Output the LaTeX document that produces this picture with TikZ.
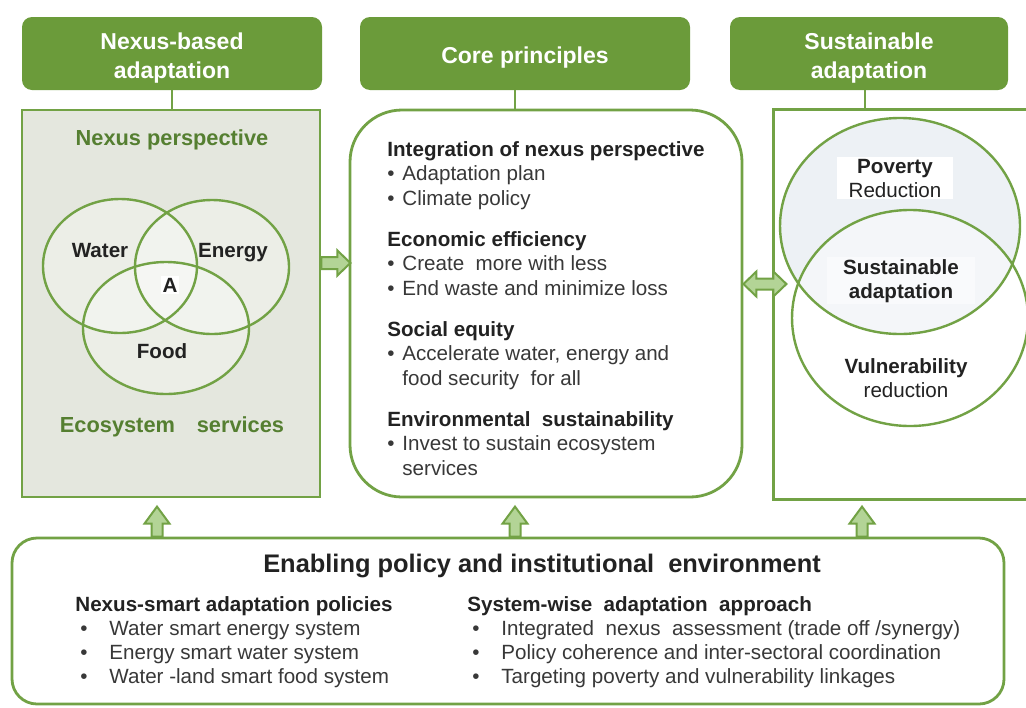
\documentclass[tikz,border=0pt]{standalone}
\usepackage{fontspec}
\setmainfont{Liberation Sans}
\usetikzlibrary{positioning}

\definecolor{leaf}{HTML}{6B9B3A}
\definecolor{leafline}{HTML}{72A245}
\definecolor{leaftext}{HTML}{557F31}
\definecolor{leaflight}{HTML}{B3D496}
\definecolor{panelgrey}{HTML}{E4E7DE}
\definecolor{mist}{HTML}{EDF1F5}
\definecolor{ink}{HTML}{222222}
\definecolor{softink}{HTML}{383838}

\newcommand{\bul}{\makebox[7.5pt][l]{•}}
\newcommand{\wbul}{\makebox[17pt][l]{\hspace{2.5pt}•}}

\tikzset{
  headbox/.style={fill=leaf, rounded corners=5pt, minimum height=36.5pt},
  headtext/.style={text=white, align=center, font=\fontsize{11.5}{14.5}\selectfont\bfseries},
  panel/.style={draw=leafline, line width=1.4pt, minimum height=193.5pt},
  link/.style={draw=leafline, line width=1.4pt},
  venn/.style={draw=leafline, line width=1.2pt},
  greenhead/.style={anchor=base, text=leaftext, font=\fontsize{10.9}{13}\selectfont\bfseries},
  tag/.style={anchor=base, inner sep=1pt, text=ink, align=center,
    font=\fontsize{10.3}{12}\selectfont\bfseries},
  sect/.style={anchor=base west, inner sep=0pt, align=left, text=softink,
    font=\fontsize{10.3}{12.25}\selectfont},
  arrowbox/.style={draw=leafline, fill=leaflight, line width=1pt},
  rarrow/.pic={\path[arrowbox] (0,-6) -- (16,-6) -- (16,-12.5) -- (29,0)
    -- (16,12.5) -- (16,6) -- (0,6) -- cycle;},
  uparrow/.pic={\path[arrowbox] (-5.5,0) -- (-5.5,-13) -- (-12.5,-13) -- (0,-30)
    -- (12.5,-13) -- (5.5,-13) -- (5.5,0) -- cycle;},
  dblarrow/.pic={\path[arrowbox] (0,0) -- (13,-12.5) -- (13,-5.5) -- (30,-5.5)
    -- (30,-12.5) -- (43,0) -- (30,12.5) -- (30,5.5) -- (13,5.5) -- (13,12.5) -- cycle;},
}

\begin{document}
\begin{tikzpicture}[x=0.5pt, y=-0.5pt]
  \clip (0,0) rectangle (1026,707);
  \fill[white] (0,0) rectangle (1026,707);

  % column heads
  \node[headbox, minimum width=150pt] (hdnexus) at (172,53.5) {};
  \node[headbox, minimum width=165pt] (hdcore) at (525,53.5) {};
  \node[headbox, minimum width=139pt] (hdsust) at (869,53.5) {};
  \node[headtext] (hdnexustxt) at ([yshift=-2.5pt]hdnexus.center) {Nexus-based\\adaptation};
  \node[headtext] (hdcoretxt) at ([yshift=-2pt]hdcore.center) {Core principles};
  \node[headtext] (hdsusttxt) at ([yshift=-2.5pt]hdsust.center) {Sustainable\\adaptation};

  % panels
  \node[panel, fill=panelgrey, minimum width=149pt] (nexus) at (171,303.5) {};
  \node[panel, rounded corners=26pt, minimum width=196pt] (core) at (546,303.5) {};
  \node[panel, anchor=north west, minimum width=134pt, minimum height=195pt] (sust) at (772,108) {};
  \node[panel, rounded corners=12.5pt, minimum width=496pt, minimum height=83pt] (enable) at (508,621) {};

  % heads to panels
  \draw[link] (hdnexus.south) -- (hdnexus.south |- nexus.north);
  \draw[link] ([xshift=-5pt]hdcore.south) -- ([xshift=-5pt]hdcore.south |- core.north);
  \draw[link] ([xshift=-2pt]hdsust.south) -- ([xshift=-2pt]hdsust.south |- sust.north);

  % nexus venn
  \foreach \cx/\cy/\rx/\ry in {120/266/77/67, 212/267/77/67, 166/328/83/66}
    \fill[white, fill opacity=.3] (\cx,\cy) ellipse [x radius=\rx, y radius=\ry];
  \foreach \cx/\cy/\rx/\ry in {120/266/77/67, 212/267/77/67, 166/328/83/66}
    \draw[venn] (\cx,\cy) ellipse [x radius=\rx, y radius=\ry];
  \node[greenhead] (persp) at (172,145) {Nexus perspective};
  \node[tag] (water) at (100,257) {Water};
  \node[tag] (energy) at (233,257) {Energy};
  \node[tag, fill=white] (nexA) at (170,292) {A};
  \node[tag] (food) at (162,358) {Food};
  \node[greenhead] (ecosys) at (172,432) {Ecosystem\hspace{1em}services};

  % core principles (base = last line)
  \node[sect] (integ) at (387,205) {\textbf{\color{ink}Integration of nexus perspective}\\
    \bul Adaptation plan\\\bul Climate policy};
  \node[sect] (econ) at (387,295) {\textbf{\color{ink}Economic efficiency}\\
    \bul Create\ \ more with less\\\bul End waste and minimize loss};
  \node[sect] (social) at (387,385) {\textbf{\color{ink}Social equity}\\
    \bul Accelerate water, energy and\\\hspace*{7.5pt}food security\ \ for all};
  \node[sect] (envir) at (387,475) {\textbf{\color{ink}Environmental\ \ sustainability}\\
    \bul Invest to sustain ecosystem\\\hspace*{7.5pt}services};

  % sustainable adaptation venn
  \fill[mist] (900,226) ellipse [x radius=120, y radius=108];
  \fill[white, fill opacity=.4] (910,318) ellipse [x radius=118, y radius=108];
  \draw[venn] (900,226) ellipse [x radius=120, y radius=108];
  \draw[venn] (910,318) ellipse [x radius=118, y radius=108];
  \node[tag, fill=white, inner xsep=6pt] (poverty) at (895,197) {Poverty\\\mdseries Reduction};
  \node[tag, fill=white, fill opacity=.5, text opacity=1, inner xsep=8pt] (sustad) at (901,298) {Sustainable\\adaptation};
  \node[tag] (vulner) at (906,397) {Vulnerability\\\mdseries reduction};

  % enabling environment
  \node[anchor=base, text=ink, font=\fontsize{12.7}{15}\selectfont\bfseries] (enabling) at (542,572)
    {Enabling policy and institutional\ \ environment};
  \node[sect, font=\fontsize{10.3}{11.85}\selectfont] (policies) at (75,683)
    {\textbf{\color{ink}Nexus-smart adaptation policies}\\
    \wbul Water smart energy system\\
    \wbul Energy smart water system\\
    \wbul Water -land smart food system};
  \node[sect, font=\fontsize{10.3}{11.85}\selectfont] (approach) at (467,683)
    {\textbf{\color{ink}System-wise\ \ adaptation\ \ approach}\\
    \wbul Integrated\ \ nexus\ \ assessment (trade off /synergy)\\
    \wbul Policy coherence and inter-sectoral coordination\\
    \wbul Targeting poverty and vulnerability linkages};

  % block arrows
  \pic at (nexus.east |- 0,263) {rarrow};
  \pic at (core.east |- 0,284) {dblarrow};
  \foreach \ax in {157,515,862}
    \pic at (enable.north -| \ax,0) {uparrow};
\end{tikzpicture}
\end{document}
